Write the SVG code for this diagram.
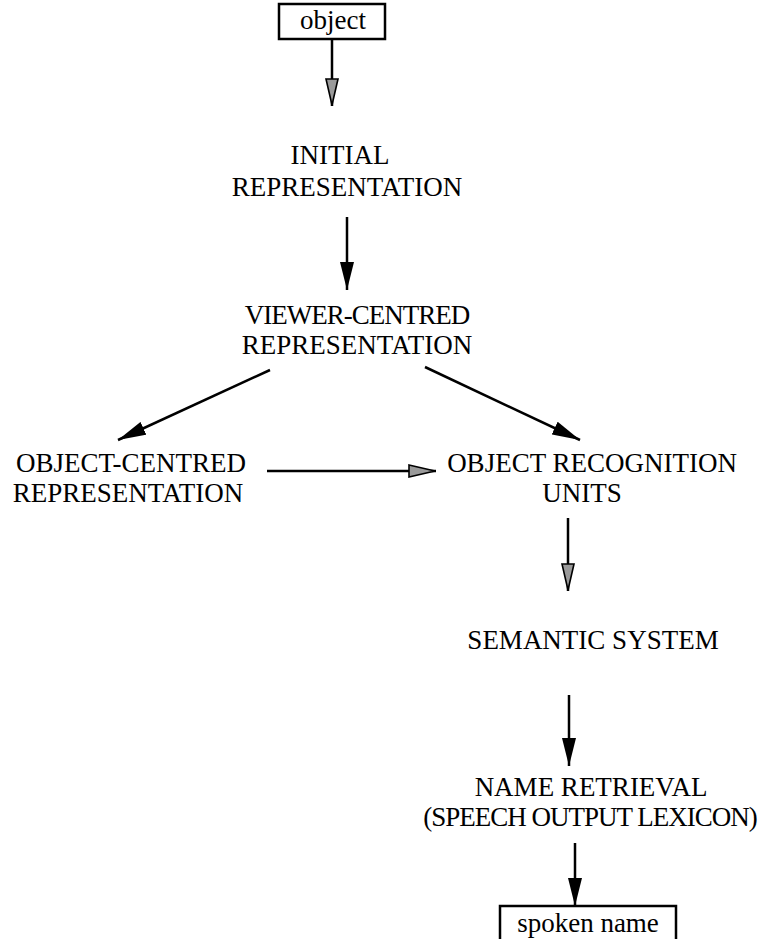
<svg xmlns="http://www.w3.org/2000/svg" width="782" height="939" viewBox="0 0 782 939">
<style>
text{font-family:"Liberation Serif","DejaVu Serif",serif;font-size:27px;fill:#000;text-anchor:middle}
.tight{letter-spacing:-1px}
.box{fill:#fff;stroke:#000;stroke-width:2.5}
.edge{stroke:#000;stroke-width:2.5;fill:none}
.solid{marker-end:url(#ahSolid)}
.light{marker-end:url(#ahLight)}
</style>
<defs>
<marker id="ahSolid" viewBox="0 0 28 14" refX="28" refY="7" markerWidth="28" markerHeight="14" orient="auto" markerUnits="userSpaceOnUse">
<path d="M0,0 L28,7 L0,14 z" fill="#000"/>
</marker>
<marker id="ahLight" viewBox="0 0 28 14" refX="28" refY="7" markerWidth="28" markerHeight="14" orient="auto" markerUnits="userSpaceOnUse">
<path d="M1,1 L27,7 L1,13 z" fill="#9a9a9a" stroke="#000" stroke-width="1.6"/>
</marker>
</defs>
<g id="connectors">
<line class="edge light" x1="332" y1="39" x2="332" y2="106"/>
<line class="edge solid" x1="347" y1="217" x2="347" y2="290"/>
<line class="edge solid" x1="270" y1="370" x2="118" y2="440"/>
<line class="edge solid" x1="425" y1="367" x2="580" y2="440"/>
<line class="edge light" x1="267" y1="471" x2="436" y2="471"/>
<line class="edge light" x1="568" y1="518" x2="568" y2="591"/>
<line class="edge solid" x1="569" y1="695" x2="569" y2="766"/>
<line class="edge solid" x1="575" y1="843" x2="575" y2="906"/>
</g>
<g id="object">
<rect class="box" x="279" y="4" width="106" height="35"/>
<text x="333" y="29">object</text>
</g>
<g id="initial-representation">
<text x="340" y="164">INITIAL</text>
<text x="347" y="196">REPRESENTATION</text>
</g>
<g id="viewer-centred-representation">
<text x="357" y="324" class="tight">VIEWER-CENTRED</text>
<text x="357" y="354">REPRESENTATION</text>
</g>
<g id="object-centred-representation">
<text x="131" y="472">OBJECT-CENTRED</text>
<text x="128" y="502">REPRESENTATION</text>
</g>
<g id="object-recognition-units">
<text x="592" y="472">OBJECT RECOGNITION</text>
<text x="582" y="502">UNITS</text>
</g>
<g id="semantic-system">
<text x="593" y="649">SEMANTIC SYSTEM</text>
</g>
<g id="name-retrieval">
<text x="591" y="796">NAME RETRIEVAL</text>
<text x="590" y="826" class="tight">(SPEECH OUTPUT LEXICON)</text>
</g>
<g id="spoken-name">
<rect class="box" x="500" y="906" width="176" height="40"/>
<text x="588" y="932">spoken name</text>
</g>
</svg>
